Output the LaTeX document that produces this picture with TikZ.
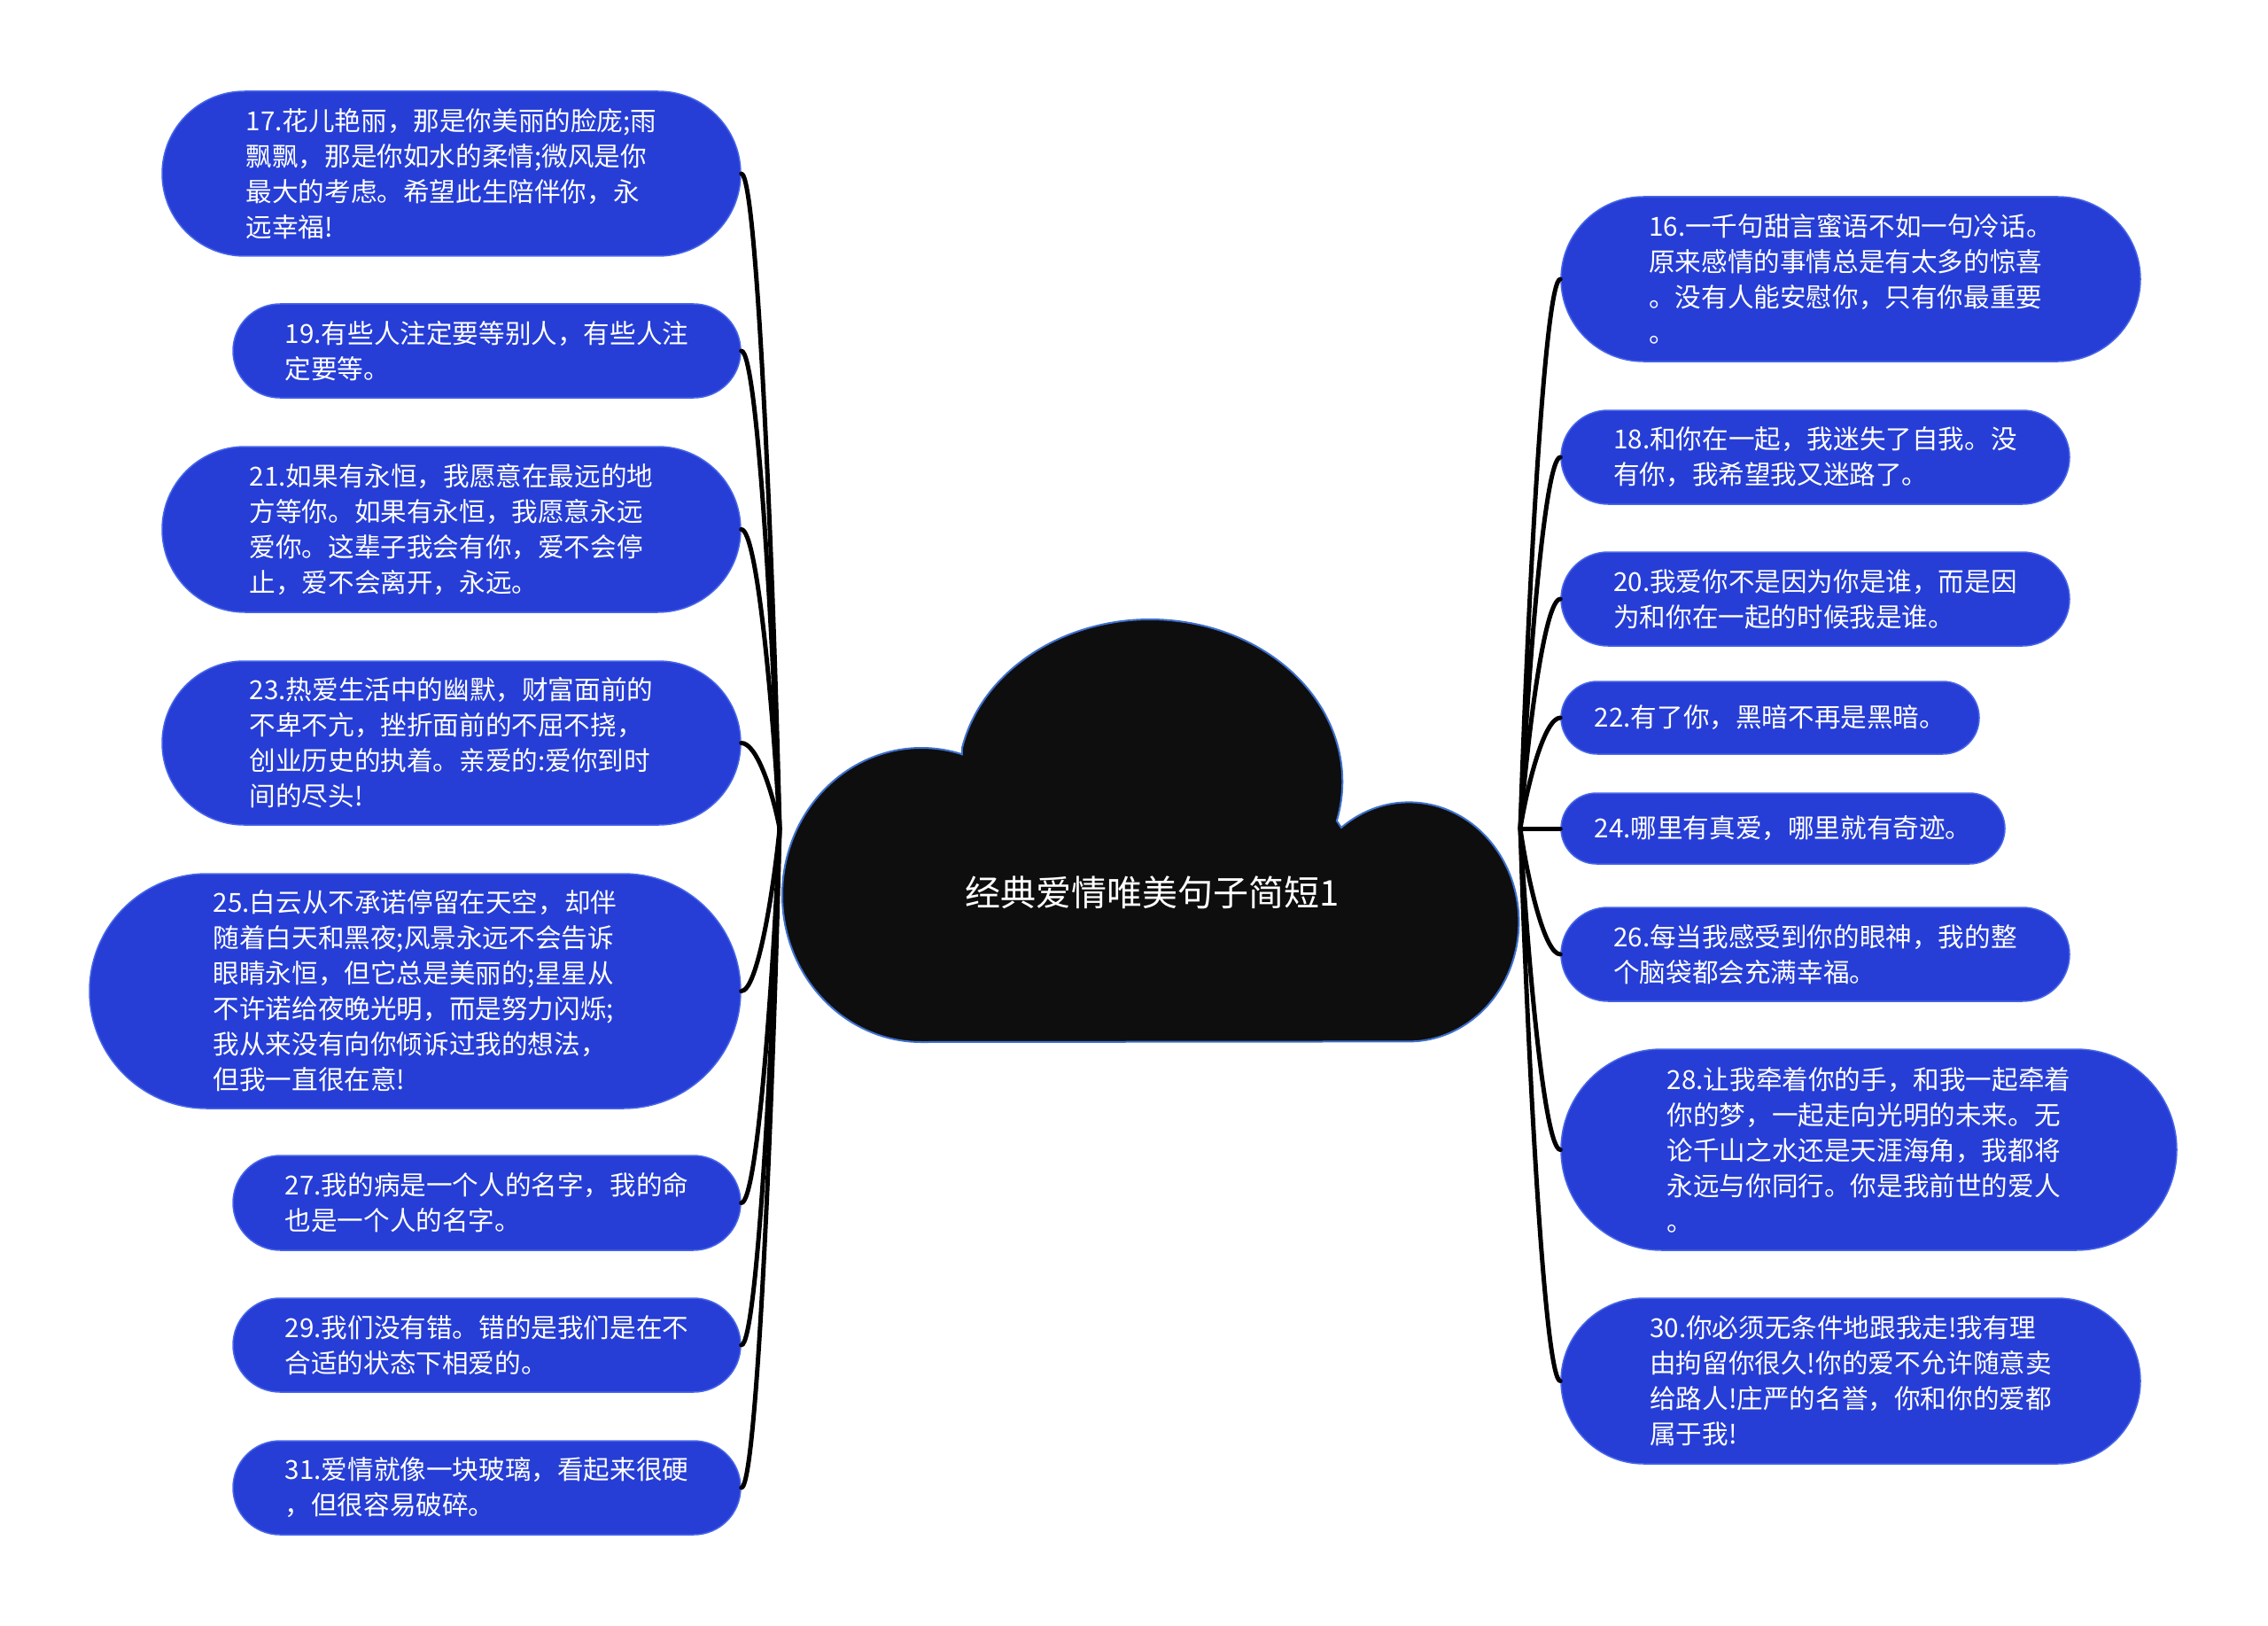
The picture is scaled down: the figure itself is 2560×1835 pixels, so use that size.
\documentclass[tikz,border=0pt]{standalone}
\usepackage{fontspec}
\setmainfont{Noto Sans CJK SC}
\usepackage{xcolor}
\usetikzlibrary{calc}
\definecolor{leafblue}{RGB}{38,62,214}
\definecolor{leafedge}{RGB}{72,102,232}
\definecolor{cloudink}{RGB}{14,14,14}
\definecolor{cloudedge}{RGB}{62,112,205}
\tikzset{
  leaf/.style 2 args={fill=leafblue, draw=leafedge, line width=1.5pt, text=white,
    align=left, inner sep=0pt, minimum width=#1, minimum height=#2,
    rounded corners=#2*0.5, font=\fontsize{29.6}{40}\selectfont},
  link/.style={line width=5pt, line cap=round},
}

\begin{document}
\begin{tikzpicture}[x=1pt,y=-1pt]
\useasboundingbox (0,0) rectangle (2560,1835);

% centre cloud
\path[fill=cloudink, draw=cloudedge, line width=2pt]
  (1040,1176) arc[start angle=90, end angle=287, x radius=157, y radius=166]
  -- (1086,844) arc[start angle=192, end angle=374, x radius=217, y radius=183]
  -- (1514,934) arc[start angle=232, end angle=450, x radius=124, y radius=135]
  -- cycle;
\node[text=white, font=\fontsize{40}{48}\selectfont] (title) at (1301,1007) {经典爱情唯美句子简短1};
\coordinate (hubL) at (880,935);
\coordinate (hubR) at (1716,935);

% left side
\node[leaf={653}{186}] (n17) at (509.5,196) {17.花儿艳丽，那是你美丽的脸庞;雨\\飘飘，那是你如水的柔情;微风是你\\最大的考虑。希望此生陪伴你，永\\远幸福!};
\node[leaf={573}{106}] (n19) at (549.5,396) {19.有些人注定要等别人，有些人注\\定要等。};
\node[leaf={653}{187}] (n21) at (509.5,597.5) {21.如果有永恒，我愿意在最远的地\\方等你。如果有永恒，我愿意永远\\爱你。这辈子我会有你，爱不会停\\止，爱不会离开，永远。};
\node[leaf={653}{185}] (n23) at (509.5,838.5) {23.热爱生活中的幽默，财富面前的\\不卑不亢，挫折面前的不屈不挠，\\创业历史的执着。亲爱的:爱你到时\\间的尽头!};
\node[leaf={735}{265}] (n25) at (468.5,1118.5) {25.白云从不承诺停留在天空，却伴\\随着白天和黑夜;风景永远不会告诉\\眼睛永恒，但它总是美丽的;星星从\\不许诺给夜晚光明，而是努力闪烁;\\我从来没有向你倾诉过我的想法，\\但我一直很在意!};
\node[leaf={573}{107}] (n27) at (549.5,1357.5) {27.我的病是一个人的名字，我的命\\也是一个人的名字。};
\node[leaf={573}{106}] (n29) at (549.5,1518) {29.我们没有错。错的是我们是在不\\合适的状态下相爱的。};
\node[leaf={573}{106}] (n31) at (549.5,1679) {31.爱情就像一块玻璃，看起来很硬\\，但很容易破碎。};

% right side
\node[leaf={654}{186}] (n16) at (2089,315) {16.一千句甜言蜜语不如一句冷话。\\原来感情的事情总是有太多的惊喜\\。没有人能安慰你，只有你最重要\\。};
\node[leaf={574}{106}] (n18) at (2049,516) {18.和你在一起，我迷失了自我。没\\有你，我希望我又迷路了。};
\node[leaf={574}{106}] (n20) at (2049,676) {20.我爱你不是因为你是谁，而是因\\为和你在一起的时候我是谁。};
\node[leaf={472}{82}] (n22) at (1998,810) {22.有了你，黑暗不再是黑暗。};
\node[leaf={501}{80}] (n24) at (2012.5,935) {24.哪里有真爱，哪里就有奇迹。};
\node[leaf={574}{106}] (n26) at (2049,1077) {26.每当我感受到你的眼神，我的整\\个脑袋都会充满幸福。};
\node[leaf={695}{227}] (n28) at (2109.5,1297.5) {28.让我牵着你的手，和我一起牵着\\你的梦，一起走向光明的未来。无\\论千山之水还是天涯海角，我都将\\永远与你同行。你是我前世的爱人\\。};
\node[leaf={654}{187}] (n30) at (2089,1558.5) {30.你必须无条件地跟我走!我有理\\由拘留你很久!你的爱不允许随意卖\\给路人!庄严的名誉，你和你的爱都\\属于我!};

\foreach \n in {n17,n19,n21,n23,n25,n27,n29,n31}
  \draw[link] (hubL) .. controls ($(hubL)!0.4!(\n.east)+(10,0)$) and ($(\n.east)+(18,0)$) .. (\n.east);
\foreach \n in {n16,n18,n20,n22,n24,n26,n28,n30}
  \draw[link] (hubR) .. controls ($(hubR)!0.4!(\n.west)+(-10,0)$) and ($(\n.west)+(-18,0)$) .. (\n.west);

\end{tikzpicture}
\end{document}
